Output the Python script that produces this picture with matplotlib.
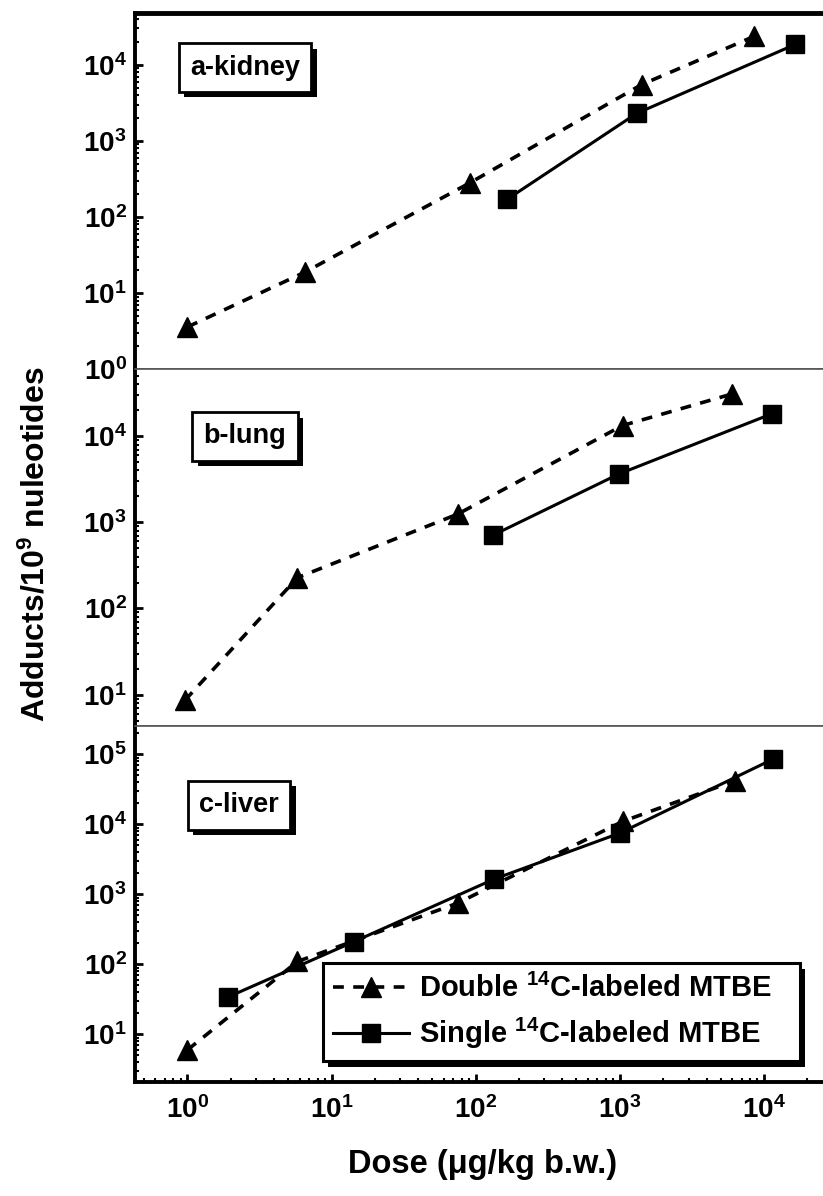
import math
import matplotlib
matplotlib.use("Agg")
import matplotlib.pyplot as plt
import matplotlib.patheffects as pe
from matplotlib.ticker import LogLocator, FuncFormatter, NullFormatter, NullLocator

plt.rcParams['font.family'] = ['Liberation Sans', 'DejaVu Sans']
plt.rcParams['font.weight'] = 'bold'
plt.rcParams['mathtext.fontset'] = 'custom'
plt.rcParams['mathtext.rm'] = 'Liberation Sans:bold'
plt.rcParams['mathtext.bf'] = 'Liberation Sans:bold'
plt.rcParams['mathtext.it'] = 'Liberation Sans:bold'

# ---- data ----
panel_names = ["a-kidney", "b-lung", "c-liver"]

kidney_double_x = [1.0, 6.5, 92, 1420, 8600]
kidney_double_y = [3.6, 18.8, 284, 5500, 23700]
kidney_single_x = [166, 1310, 16500]
kidney_single_y = [172, 2300, 18500]

lung_double_x = [0.96, 5.8, 75, 1045, 6050]
lung_double_y = [8.6, 228, 1245, 13300, 31000]
lung_single_x = [132, 985, 11350]
lung_single_y = [710, 3640, 18200]

liver_double_x = [1.0, 5.8, 75, 1045, 6300]
liver_double_y = [6.0, 110, 750, 11000, 42000]
liver_single_x = [1.9, 14.2, 134, 1000, 11500]
liver_single_y = [34, 210, 1650, 7500, 85000]

legend_labels = [r"Double $^{14}$C-labeled MTBE", r"Single $^{14}$C-labeled MTBE"]

ylims = [(1.0, 10**4.68), (10**0.64, 10**4.776), (10**0.32, 10**5.41)]
xlim = (10**-0.364, 10**4.41)

fig = plt.figure(figsize=(8.23, 11.96), dpi=100)
left, right, bottom, top = 135/823, 1.0, 1 - 1082/1196, 1 - 13/1196
h = (top - bottom) / 3
axes = []
for i in range(3):
    ax = fig.add_axes([left, top - (i + 1) * h, right - left, h])
    axes.append(ax)

data = [
    (kidney_double_x, kidney_double_y, kidney_single_x, kidney_single_y),
    (lung_double_x, lung_double_y, lung_single_x, lung_single_y),
    (liver_double_x, liver_double_y, liver_single_x, liver_single_y),
]

fmt = FuncFormatter(lambda v, p: r"$\mathbf{10^{%d}}$" % round(math.log10(v)))

label_pos = [(0.160, 0.847), (0.160, 0.812), (0.151, 0.777)]

shadow = [pe.SimplePatchShadow(offset=(4, -4), shadow_rgbFace='black', alpha=1.0), pe.Normal()]

for i, ax in enumerate(axes):
    dx, dy, sx, sy = data[i]
    ax.set_xscale('log')
    ax.set_yscale('log')
    l1, = ax.plot(dx, dy, linestyle=(0, (3, 2.6)), color='black', lw=2.6,
                  marker='^', markersize=15, label=legend_labels[0])
    l2, = ax.plot(sx, sy, linestyle='-', color='black', lw=2.2,
                  marker='s', markersize=12.5, label=legend_labels[1])
    ax.set_xlim(*xlim)
    ax.set_ylim(*ylims[i])
    ax.yaxis.set_major_locator(LogLocator(base=10, numticks=20))
    ax.yaxis.set_minor_locator(LogLocator(base=10, subs=[2, 3, 4, 5, 6, 7, 8, 9], numticks=20))
    ax.yaxis.set_major_formatter(fmt)
    ax.yaxis.set_minor_formatter(NullFormatter())
    ax.tick_params(axis='y', which='major', direction='in', length=6, width=2, labelsize=20, pad=6)
    ax.tick_params(axis='y', which='minor', direction='in', length=3, width=1.5)
    ax.spines['right'].set_visible(False)
    ax.spines['left'].set_linewidth(2.8)
    if i < 2:
        ax.xaxis.set_major_locator(NullLocator())
        ax.xaxis.set_minor_locator(NullLocator())
        ax.spines['bottom'].set_linewidth(1.2)
        ax.spines['bottom'].set_color('#555555')
    else:
        ax.xaxis.set_major_locator(LogLocator(base=10, numticks=20))
        ax.xaxis.set_minor_locator(LogLocator(base=10, subs=[2, 3, 4, 5, 6, 7, 8, 9], numticks=20))
        ax.xaxis.set_major_formatter(fmt)
        ax.xaxis.set_minor_formatter(NullFormatter())
        ax.tick_params(axis='x', which='major', direction='in', length=6, width=2, labelsize=20, pad=10)
        ax.tick_params(axis='x', which='minor', direction='in', length=3, width=1.5)
        ax.spines['bottom'].set_linewidth(2.8)
    if i == 0:
        ax.spines['top'].set_linewidth(3.5)
    else:
        ax.spines['top'].set_linewidth(1.2)
        ax.spines['top'].set_color('#555555')

    t = ax.text(label_pos[i][0], label_pos[i][1], panel_names[i], transform=ax.transAxes,
                fontsize=19.5, fontweight='bold', ha='center', va='center',
                bbox=dict(boxstyle='square,pad=0.42', facecolor='white', edgecolor='black', linewidth=2))
    t.get_bbox_patch().set_path_effects(shadow)

    if i == 2:
        leg = ax.legend(handles=[l1, l2], loc='lower left', bbox_to_anchor=(0.273, 0.058, 0.693, 0.285),
                        mode='expand', fontsize=21, frameon=True, fancybox=False, handlelength=2.6,
                        handletextpad=0.35, borderpad=0.35, labelspacing=0.45, borderaxespad=0)
        fr = leg.get_frame()
        fr.set_edgecolor('black')
        fr.set_linewidth(2.2)
        fr.set_alpha(1)
        fr.set_path_effects(shadow)
        for txt in leg.get_texts():
            txt.set_fontweight('bold')

fig.text(0.043, 1 - 544/1196, r"Adducts/10$^{9}$ nuleotides", rotation=90, ha='center', va='center',
         fontsize=23, fontweight='bold')
fig.text(0.586, 1 - 1165/1196, "Dose (μg/kg b.w.)", ha='center', va='center',
         fontsize=23.5, fontweight='bold')

fig.savefig("out.png", dpi=100)
